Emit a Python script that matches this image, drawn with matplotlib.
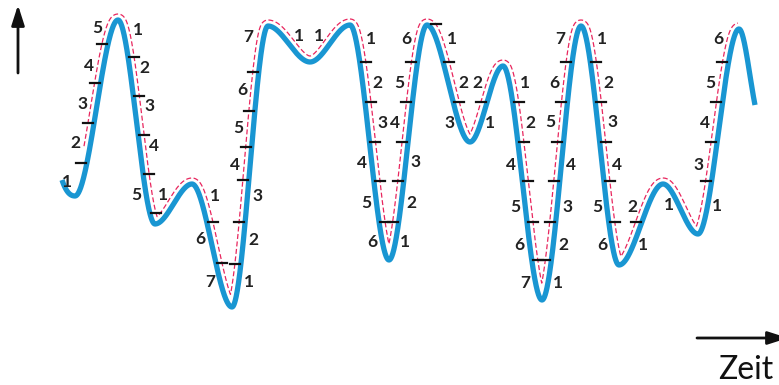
import matplotlib.pyplot as plt
import numpy as np

# Turning points of the load signal (time, level; level axis points down)
ext_t = [62, 75, 118, 155, 192, 232, 268, 310, 350, 389, 427, 470, 503, 542, 581, 619, 663, 698, 739, 755]
ext_v = [180, 196, 20, 224, 184, 307, 26, 62, 25, 260, 25, 142, 66, 300, 26, 265, 184, 234, 29, 105]
slope_start, slope_end = 3.0, 5.0

# Class limits crossed on each half cycle: (segment, level)
crossings = {
    1: [163, 123, 83, 44],
    2: [57, 96, 135, 174, 213],
    4: [222, 263],
    5: [264, 222, 180, 147, 111, 72],
    8: [62, 102, 142, 181, 222],
    9: [222, 181, 142, 102, 62],
    10: [24, 62, 102],
    11: [102],
    12: [102, 142, 181, 222, 260],
    13: [260, 222, 181, 142, 102, 62],
    14: [62, 102, 142, 181, 222],
    15: [222],
    17: [181, 142, 102, 62],
}

# Counted classes: segment -> list of (label, level, side of the curve)
counts = {
    1: [("1", 182, "l"), ("2", 143, "l"), ("3", 104, "l"), ("4", 66, "l"), ("5", 28, "l")],
    2: [("1", 30, "r"), ("2", 68, "r"), ("3", 106, "r"), ("4", 146, "r"), ("5", 195, "l")],
    3: [("1", 195, "l")],
    4: [("1", 196, "r"), ("6", 239, "l"), ("7", 282, "l")],
    5: [("1", 282, "r"), ("2", 240, "r"), ("3", 196, "r"), ("4", 165, "l"), ("5", 128, "l"),
        ("6", 90, "l"), ("7", 37, "l")],
    6: [("1", 36, "r")],
    7: [("1", 36, "l")],
    8: [("1", 39, "r"), ("2", 83, "r"), ("3", 123, "r"), ("4", 163, "l"), ("5", 203, "l"), ("6", 242, "l")],
    9: [("1", 242, "r"), ("2", 203, "r"), ("3", 162, "r"), ("4", 123, "l"), ("5", 83, "l"), ("6", 39, "l")],
    10: [("1", 39, "r"), ("2", 83, "r"), ("3", 123, "l")],
    11: [("1", 123, "r"), ("2", 83, "l")],
    12: [("1", 83, "r"), ("2", 123, "r"), ("4", 165, "l"), ("5", 207, "l"), ("6", 245, "l"), ("7", 283, "l")],
    13: [("1", 283, "r"), ("2", 245, "r"), ("3", 207, "r"), ("4", 165, "r"), ("5", 122, "l"),
         ("6", 83, "l"), ("7", 39, "l")],
    14: [("1", 39, "r"), ("2", 83, "r"), ("3", 122, "r"), ("4", 165, "r"), ("5", 207, "l"), ("6", 245, "l")],
    15: [("1", 245, "r"), ("2", 207, "l")],
    16: [("1", 205, "l")],
    17: [("1", 206, "r"), ("3", 165, "l"), ("4", 123, "l"), ("5", 83, "l"), ("6", 39, "l")],
}

xk = np.array(ext_t, float)
yk = np.array(ext_v, float)

# cubic Hermite through the turning points, flat at every reversal
step = 0.1
xs = np.arange(xk[0], xk[-1] + step / 2, step)
seg = np.clip(np.searchsorted(xk, xs, side="right") - 1, 0, len(xk) - 2)
h = xk[seg + 1] - xk[seg]
t = (xs - xk[seg]) / h
m0 = np.where(seg == 0, slope_start, 0.0)
m1 = np.where(seg == len(xk) - 2, slope_end, 0.0)
ys = ((2 * t**3 - 3 * t**2 + 1) * yk[seg] + (t**3 - 2 * t**2 + t) * h * m0
      + (-2 * t**3 + 3 * t**2) * yk[seg + 1] + (t**3 - t**2) * h * m1)

# dashed line: upper envelope of the signal widened by a disc of radius d
d = 6.0
m = int(round(d / step))
red = np.full_like(ys, np.inf)
for j in range(-m, m + 1):
    lift = np.sqrt(max(d**2 - (j * step) ** 2, 0.0))
    sh = np.full_like(ys, np.inf)
    if j >= 0:
        sh[:len(ys) - j] = ys[j:]
    else:
        sh[-j:] = ys[:j]
    red = np.minimum(red, sh - lift)


def rising(s):
    return ext_v[s + 1] < ext_v[s]


def cross_x(s, level):
    xa, xb = ext_t[s], ext_t[s + 1]
    sel = (xs >= xa - 4) & (xs <= xb + 4)
    xx, rr = xs[sel], red[sel] - level
    if rising(s):
        idx = np.where((rr[:-1] > 0) & (rr[1:] <= 0))[0]
    else:
        idx = np.where((rr[:-1] < 0) & (rr[1:] >= 0))[0]
    i = idx[0]
    return xx[i] + (xx[i + 1] - xx[i]) * rr[i] / (rr[i] - rr[i + 1])


def label_dx(s, side):
    sign = -1 if side == "l" else 1
    # the dashed line runs on the upper side of the signal,
    # labels on the solid side need more room
    dashed_side = -1 if rising(s) else 1
    return sign * (9 if sign == dashed_side else 16)


fig = plt.figure(figsize=(7.79, 3.85), dpi=100)
ax = fig.add_axes([0, 0, 1, 1])
ax.set_xlim(0, 779)
ax.set_ylim(385, 0)
ax.axis("off")

ax.plot(xs, ys, color="#1996d2", lw=3.8, solid_capstyle="butt", zorder=2)
keep = (xs >= 84) & (xs <= 738)
ax.plot(xs[keep], red[keep], color="#e8265e", lw=0.9, dashes=(4, 2), zorder=3)

for s, levels in crossings.items():
    for lv in levels:
        cx = cross_x(s, lv)
        ax.plot([cx - 5, cx + 5], [lv, lv], color="#111111", lw=1.6, zorder=4)

for s, items in counts.items():
    for txt, lv, side in items:
        cx = cross_x(s, lv)
        ax.text(cx + label_dx(s, side), lv, txt, ha="center", va="center", fontsize=12.5,
                fontweight="bold", family="Lato", color="#222222", zorder=5)

# axis arrows
arrow = dict(arrowstyle="-|>,head_length=1.0,head_width=0.32", color="#111111",
             lw=2, mutation_scale=12.2, shrinkA=0, shrinkB=0)
ax.annotate("", xy=(18, 5), xytext=(18, 73), arrowprops=arrow)
ax.annotate("", xy=(788, 338), xytext=(697, 338), arrowprops=arrow, annotation_clip=False)
ax.text(746, 370, "Zeit", ha="center", va="center", fontsize=23, family="Lato", color="#111111")

fig.savefig("out.png", dpi=100)
